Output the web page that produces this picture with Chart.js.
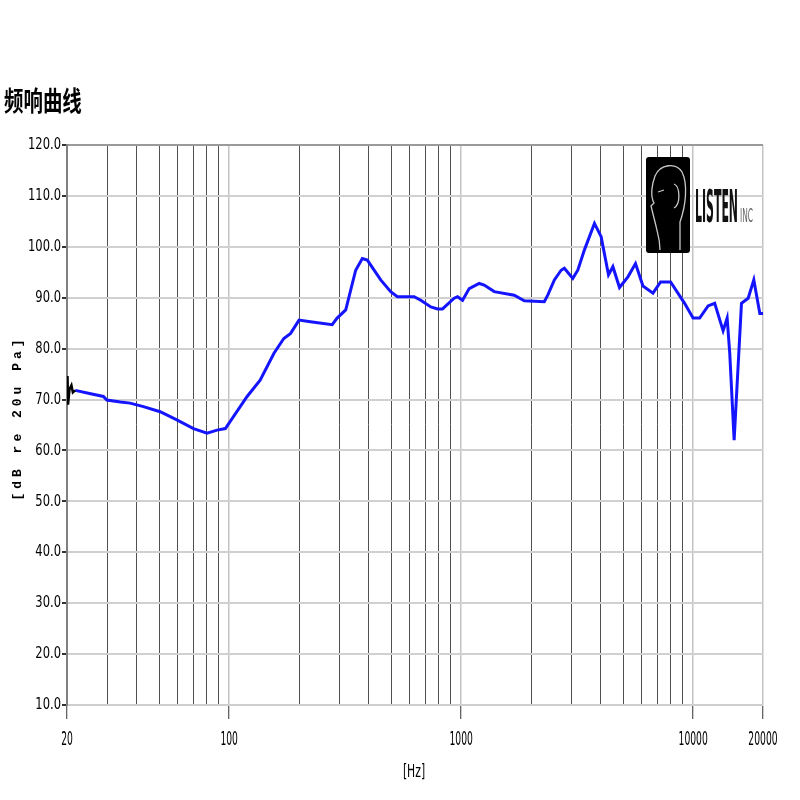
<!DOCTYPE html>
<html>
<head>
<meta charset="utf-8">
<script src="https://cdn.jsdelivr.net/npm/chart.js@4.4.1/dist/chart.umd.min.js"></script>
<style>
  body { margin: 0; background: #fff; }
  #wrap { position: relative; width: 800px; height: 800px; }
  #title {
    position: absolute; left: 4px; top: 80px;
    font: bold 27px "Noto Sans CJK SC", sans-serif;
    transform: scaleX(0.72); transform-origin: left top;
    color: #000; white-space: nowrap;
  }
</style>
</head>
<body>
<div id="wrap">
  <canvas id="frChart" width="800" height="800"></canvas>
  <div id="title">频响曲线</div>
</div>
<script>
// measured curve (Hz, dB)
const freqHz = [21.7, 25, 28.7, 29.7, 34, 37.4, 42.7, 50.4, 59.5, 70.2, 80.3, 88.7, 96.3,
  119.5, 136, 156, 172, 184, 200, 224, 278, 292, 318, 351, 375, 394, 450, 497, 531,
  627, 670, 740, 791, 831, 933, 965, 1014, 1083, 1196, 1257, 1388, 1694, 1871,
  2282, 2362, 2522, 2696, 2785, 3028, 3182, 3399, 3754, 4012, 4316, 4508, 4814,
  5234, 5643, 6076, 6712, 7236, 7994, 9188, 9988, 10666, 11598, 12384, 13464,
  14012, 14378, 15018, 16152, 17264, 18256, 19380, 20000];
const levelDb = [71.8, 71.2, 70.6, 69.9, 69.5, 69.3, 68.6, 67.6, 66.0, 64.3, 63.4, 64.0, 64.3,
  70.6, 73.8, 79.1, 82.0, 83.0, 85.6, 85.3, 84.7, 86.0, 87.6, 95.4, 97.7, 97.4, 93.5, 91.2, 90.2,
  90.2, 89.5, 88.2, 87.8, 87.8, 89.9, 90.2, 89.5, 91.8, 92.8, 92.5, 91.2, 90.5, 89.4,
  89.2, 90.5, 93.5, 95.4, 95.8, 93.8, 95.4, 99.4, 104.6, 102.0, 94.5, 96.1, 92.0,
  94.1, 96.7, 92.3, 90.9, 93.1, 93.1, 88.9, 86.0, 86.0, 88.4, 88.9, 83.5,
  86.0, 79.1, 62.0, 88.9, 89.9, 93.5, 86.9, 86.9];

// black start-up segment
const startHz = [20, 20.1, 20.2, 20.5, 20.9, 21.2, 21.7];
const startDb = [70.0, 74.6, 69.0, 72.0, 72.8, 71.4, 71.8];

const xGridHz = [20, 30, 40, 50, 60, 70, 80, 90, 100, 200, 300, 400, 500, 600, 700, 800, 900,
  1000, 2000, 3000, 4000, 5000, 6000, 7000, 8000, 9000, 10000, 20000];
const xLabelHz = [20, 100, 1000, 10000, 20000];

const labelFont = '"DejaVu Sans", sans-serif';

function toPoints(xs, ys) {
  return xs.map(function(x, i) { return { x: x, y: ys[i] }; });
}

// squeezed text, like the narrow font of the original plot
function narrowText(ctx, text, x, y, size, sx, align) {
  ctx.save();
  ctx.font = size + 'px ' + labelFont;
  const w = ctx.measureText(text).width * sx;
  let left = x;
  if (align === 'right') left = x - w;
  if (align === 'center') left = x - w / 2;
  ctx.translate(left, y);
  ctx.scale(sx, 1);
  ctx.textAlign = 'left';
  ctx.textBaseline = 'middle';
  ctx.fillText(text, 0, 0);
  ctx.restore();
}

function fitText(ctx, text, x, baseline, font, width) {
  ctx.save();
  ctx.font = font;
  const sx = width / ctx.measureText(text).width;
  ctx.translate(x, baseline);
  ctx.scale(sx, 1);
  ctx.textAlign = 'left';
  ctx.textBaseline = 'alphabetic';
  ctx.fillText(text, 0, 0);
  ctx.restore();
}

const overlayPlugin = {
  id: 'overlay',
  afterDraw: function(chart) {
    const ctx = chart.ctx;
    const xs = chart.scales.x;
    const ys = chart.scales.y;
    ctx.save();
    ctx.fillStyle = '#000';

    // tick labels
    ys.ticks.forEach(function(t) {
      narrowText(ctx, t.value.toFixed(1), 61, ys.getPixelForValue(t.value), 16, 0.72, 'right');
    });
    xLabelHz.forEach(function(v) {
      narrowText(ctx, String(v), xs.getPixelForValue(v), 740, 20, 0.46, 'center');
    });

    // axis titles
    narrowText(ctx, '[Hz]', 414, 772, 18, 0.6, 'center');

    ctx.save();
    ctx.translate(18, 418);
    ctx.rotate(-Math.PI / 2);
    ctx.textAlign = 'center';
    ctx.textBaseline = 'middle';
    ctx.font = 'bold 13px "Liberation Mono", monospace';
    if ('letterSpacing' in ctx) ctx.letterSpacing = '4px';
    ctx.fillText('[dB re 20u Pa]', 0, 0);
    ctx.restore();

    // logo
    ctx.fillStyle = '#000';
    ctx.beginPath();
    ctx.roundRect(646, 157, 44, 96, 3);
    ctx.fill();
    ctx.strokeStyle = '#c8c8c8';
    ctx.lineWidth = 1.3;
    ctx.beginPath();
    ctx.moveTo(660, 250);
    ctx.bezierCurveTo(660, 238, 657, 232, 656, 226);
    ctx.lineTo(653, 214);
    ctx.lineTo(651, 206);
    ctx.lineTo(654, 203);
    ctx.bezierCurveTo(650, 196, 652, 184, 655, 176);
    ctx.bezierCurveTo(660, 164, 676, 162, 682, 172);
    ctx.bezierCurveTo(688, 184, 686, 205, 680, 222);
    ctx.lineTo(680, 250);
    ctx.stroke();
    ctx.beginPath();
    ctx.moveTo(674, 184);
    ctx.bezierCurveTo(680, 186, 681, 204, 674, 208);
    ctx.moveTo(664, 190);
    ctx.lineTo(658, 192);
    ctx.stroke();

    ctx.fillStyle = '#111';
    fitText(ctx, 'LISTEN', 695, 222, 'bold 44px ' + labelFont, 43);
    ctx.fillStyle = '#666';
    fitText(ctx, 'INC', 740, 222, '20px ' + labelFont, 13);

    ctx.restore();
  }
};

const ctx = document.getElementById('frChart').getContext('2d');
new Chart(ctx, {
  type: 'line',
  data: {
    datasets: [
      { label: 'start', data: toPoints(startHz, startDb), borderColor: '#000', borderWidth: 2.5, pointRadius: 0, tension: 0 },
      { label: 'response', data: toPoints(freqHz, levelDb), borderColor: '#1414ff', borderWidth: 3, pointRadius: 0, tension: 0 }
    ]
  },
  options: {
    responsive: false,
    animation: false,
    layout: { padding: { left: 0, right: 37, top: 145, bottom: 0 } },
    plugins: { legend: { display: false }, tooltip: { enabled: false } },
    scales: {
      x: {
        type: 'logarithmic',
        min: 20,
        max: 20000,
        afterBuildTicks: function(scale) {
          scale.ticks = xGridHz.map(function(v) { return { value: v }; });
        },
        afterFit: function(scale) { scale.height = 95; },
        ticks: { display: false, autoSkip: false },
        grid: {
          color: function(c) {
            const v = c.tick && c.tick.value;
            if (v === 20) return '#888';
            return xLabelHz.indexOf(v) >= 0 ? '#c4c4c4' : '#505050';
          },
          lineWidth: function(c) {
            const v = c.tick && c.tick.value;
            return xLabelHz.indexOf(v) >= 0 ? 1.5 : 1;
          },
          tickLength: 14,
          tickWidth: 1,
          tickColor: function(c) {
            const v = c.tick && c.tick.value;
            return xLabelHz.indexOf(v) >= 0 ? '#333' : 'rgba(0,0,0,0)';
          }
        },
        border: { display: true, color: '#cfcfcf', width: 2 }
      },
      y: {
        min: 10,
        max: 120,
        afterFit: function(scale) { scale.width = 67; },
        ticks: { display: false, stepSize: 10 },
        grid: {
          color: function(c) { return c.tick && c.tick.value === 120 ? '#9a9a9a' : '#d0d0d0'; },
          lineWidth: 2,
          tickLength: 5,
          tickWidth: 2,
          tickColor: '#333'
        },
        border: { display: true, color: '#808080', width: 2 }
      }
    }
  },
  plugins: [overlayPlugin]
});
</script>
</body>
</html>
